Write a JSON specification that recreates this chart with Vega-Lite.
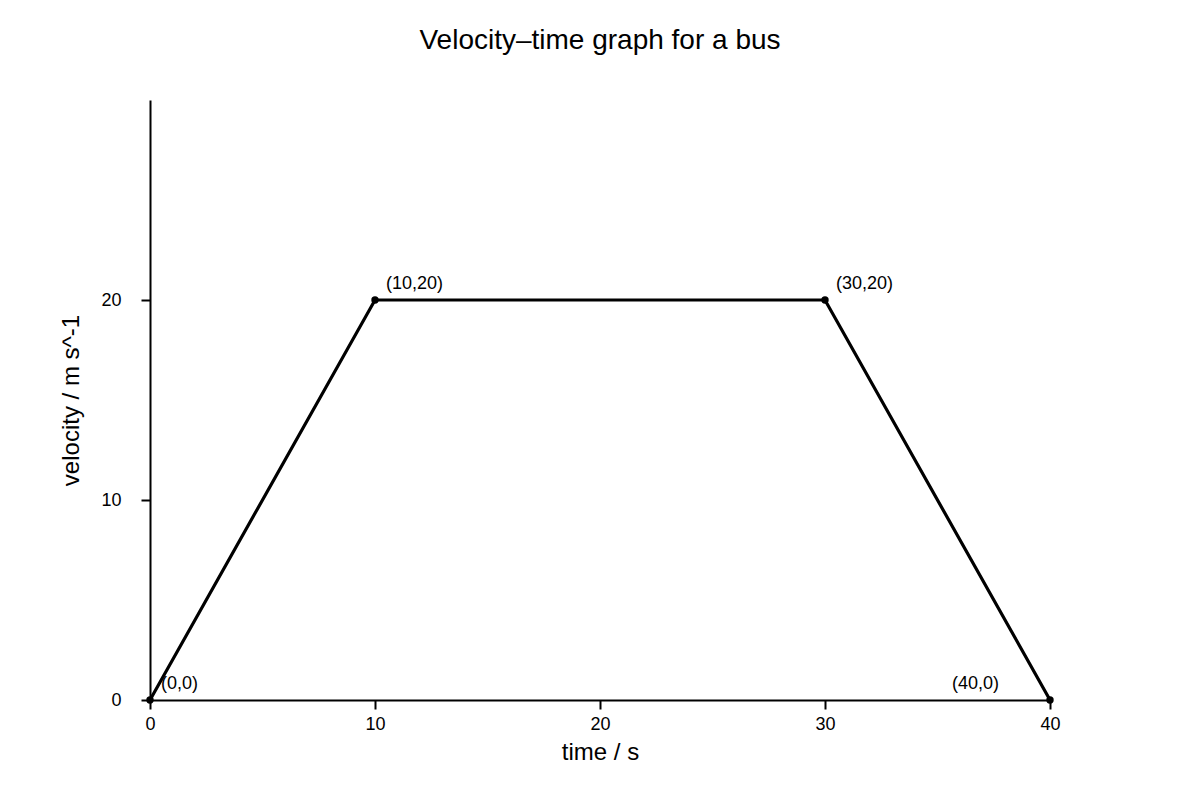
{
  "$schema": "https://vega.github.io/schema/vega-lite/v6.json",
  "autosize": "none",
  "width": 900,
  "height": 600,
  "padding": {"left": 150, "top": 100, "right": 150, "bottom": 100},
  "background": "white",
  "title": {
    "text": "Velocity–time graph for a bus",
    "font": "Liberation Sans",
    "fontSize": 28,
    "fontWeight": "normal",
    "color": "black",
    "offset": 45
  },
  "config": {
    "view": {"stroke": null},
    "axis": {
      "grid": false,
      "domainColor": "black",
      "domainWidth": 2,
      "tickColor": "black",
      "tickWidth": 2,
      "tickSize": 9,
      "labelFont": "Liberation Sans",
      "labelFontSize": 18,
      "labelColor": "black",
      "labelFlush": false,
      "titleFont": "Liberation Sans",
      "titleFontSize": 24,
      "titleFontWeight": "normal",
      "titleColor": "black"
    }
  },
  "data": {
    "values": [
      {"t": 0, "v": 0, "label": "(0,0)"},
      {"t": 10, "v": 20, "label": "(10,20)"},
      {"t": 30, "v": 20, "label": "(30,20)"},
      {"t": 40, "v": 0, "label": "(40,0)"}
    ]
  },
  "encoding": {
    "x": {
      "field": "t",
      "type": "quantitative",
      "scale": {"domain": [0, 40], "nice": false},
      "axis": {"values": [0, 10, 20, 30, 40], "title": "time / s", "labelPadding": 6, "titlePadding": 7}
    },
    "y": {
      "field": "v",
      "type": "quantitative",
      "scale": {"domain": [0, 30], "nice": false},
      "axis": {"values": [0, 10, 20], "title": "velocity / m s^-1", "labelPadding": 20, "titlePadding": 17}
    }
  },
  "layer": [
    {"mark": {"type": "line", "color": "black", "strokeWidth": 3.2}},
    {"mark": {"type": "point", "filled": true, "color": "black", "size": 55, "opacity": 1}},
    {
      "transform": [{"filter": "datum.t < 40"}],
      "mark": {"type": "text", "align": "left", "baseline": "middle", "dx": 11, "dy": -16, "font": "Liberation Sans", "fontSize": 18, "color": "black"},
      "encoding": {"text": {"field": "label"}}
    },
    {
      "transform": [{"filter": "datum.t == 40"}],
      "mark": {"type": "text", "align": "right", "baseline": "middle", "dx": -51, "dy": -16, "font": "Liberation Sans", "fontSize": 18, "color": "black"},
      "encoding": {"text": {"field": "label"}}
    }
  ]
}
